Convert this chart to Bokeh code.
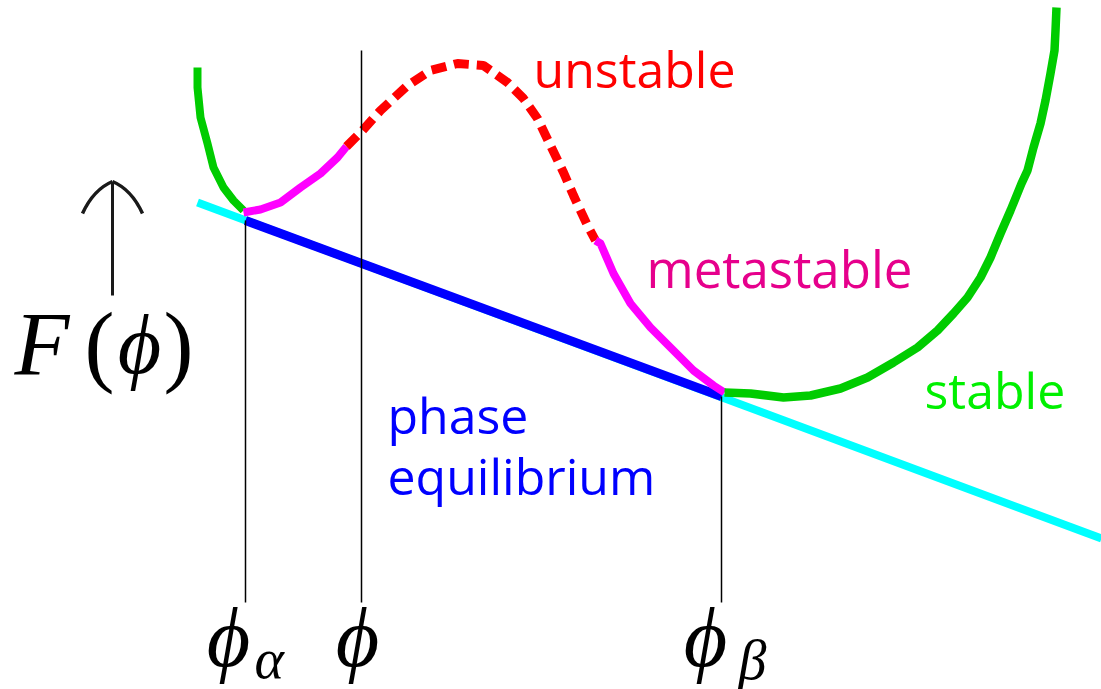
from bokeh.plotting import figure
from bokeh.models import Range1d
from bokeh.core.properties import value
from bokeh.embed import file_html
from bokeh.resources import INLINE

# Free-energy curve F(phi), split into its stability regions (left to right)
stable_left_phi = [197, 197, 200, 207, 213, 223, 233, 243]
stable_left_F = [622, 602, 572, 546, 522, 502, 489, 479]

meta_left_phi = [243, 260, 280, 300, 320, 337, 346]
meta_left_F = [477, 480, 487, 502, 516, 532, 543]

unstable_phi = [346, 362, 380, 407, 430, 457, 483, 507, 523, 537, 550, 563, 573, 587, 595]
unstable_F = [543, 559, 579, 604, 619, 626, 624, 607, 591, 571, 544, 517, 494, 464, 449]

meta_right_phi = [595, 600, 613, 630, 650, 673, 693, 713, 724]
meta_right_F = [449, 446, 416, 386, 362, 339, 319, 304, 297]

stable_right_phi = [724, 750, 783, 810, 840, 867, 893, 917, 937, 953, 967, 980,
                    990, 1000, 1010, 1021, 1027, 1033, 1040, 1045, 1050, 1054, 1055, 1056]
stable_right_F = [297, 296, 292, 294, 301, 312, 327, 342, 359, 376, 392, 412,
                  432, 456, 479, 506, 519, 542, 566, 589, 616, 639, 659, 682]

# Common tangent (double-tangent construction)
tangent_phi = [197, 1101]
tangent_F = [487, 151]
coexist_phi = [245, 721]          # phi_alpha, phi_beta
coexist_F = [469, 293]

# Marked compositions on the phi axis
marker_phi = [245, 361, 721]
marker_top = [469, 639, 293]
axis_F = 87

p = figure(width=1101, height=689, x_range=Range1d(0, 1101), y_range=Range1d(0, 689),
           output_backend="svg", toolbar_location=None, min_border=0)
p.axis.visible = False
p.grid.visible = False
p.outline_line_color = None
p.background_fill_color = "white"

# tangent line and the coexistence segment
p.line(tangent_phi, tangent_F, line_color="#00ffff", line_width=8)
p.line(coexist_phi, coexist_F, line_color="#0000ff", line_width=9)

# curve pieces
p.line(stable_left_phi, stable_left_F, line_color="#00cc00", line_width=8, line_join="round")
p.line(meta_left_phi, meta_left_F, line_color="#ff00ff", line_width=8, line_join="round")
p.line(unstable_phi, unstable_F, line_color="#ff0000", line_width=9, line_dash="15 8")
p.line(meta_right_phi, meta_right_F, line_color="#ff00ff", line_width=8, line_join="round")
p.line(stable_right_phi, stable_right_F, line_color="#00cc00", line_width=8.5, line_join="round")

# vertical drop lines to the phi axis
p.segment(x0=marker_phi, y0=marker_top, x1=marker_phi, y1=[axis_F] * len(marker_phi),
          line_color="black", line_width=1.5)

# F axis arrow: shaft and curved barbs
ink = "#1a1a1a"
p.segment(x0=[112], y0=[394], x1=[112], y1=[507], line_color=ink, line_width=3)
p.quadratic(x0=[112, 112], y0=[508, 508], x1=[82, 142], y1=[476, 476],
            cx=[93, 131], cy=[500, 500], line_color=ink, line_width=3.5)

serif = "Liberation Serif"
sans = "Open Sans"
phi = "\u03d5"


def label(x, y, text, size, color="black", font=sans, style="normal", align="left"):
    p.text(x=[x], y=[y], text=[text], text_font=value(font), text_font_size=size,
           text_color=color, text_font_style=style, text_align=align,
           text_baseline="alphabetic")


# F(phi)
label(14, 345, "F", "90px", font=serif, style="italic")
label(84, 345, "(", "90px", font=serif)
label(139, 345, phi, "84px", font=serif, style="italic", align="center")
label(163, 345, ")", "90px", font=serif)

# phi axis labels
label(228, 52, phi, "84px", font=serif, style="italic", align="center")
label(254, 31, "\u03b1", "56px", font=serif, style="italic")
label(357, 52, phi, "84px", font=serif, style="italic", align="center")
label(705, 52, phi, "84px", font=serif, style="italic", align="center")
label(738, 30, "\u03b2", "56px", font=serif, style="italic")

# region labels
label(533, 621, "unstable", "50px", color="#ff0000")
label(646, 422, "metastable", "51px", color="#e6008c")
label(924, 300, "stable", "50px", color="#00f000")
label(387, 275, "phase", "50px", color="#0000ff")
label(387, 214, "equilibrium", "50px", color="#0000ff")

open("out.html", "w").write(file_html(p, INLINE))
